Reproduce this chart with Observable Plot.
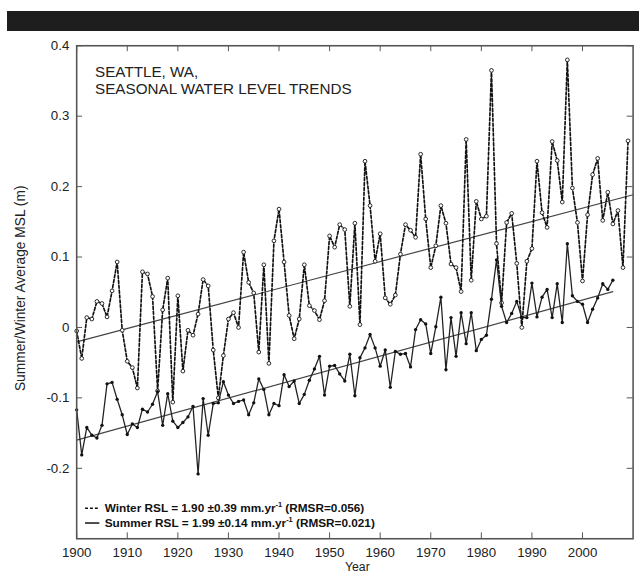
<!DOCTYPE html>
<html>
<head>
<meta charset="utf-8">
<script src="https://cdn.jsdelivr.net/npm/d3@7"></script>
<script src="https://cdn.jsdelivr.net/npm/@observablehq/plot@0.6"></script>
<style>
  html, body { margin: 0; padding: 0; background: #fff; overflow: hidden; }
  #wrap { position: relative; width: 639px; height: 587px; overflow: hidden; background: #fff; }
  #bar { position: absolute; left: 7px; top: 11px; width: 632px; height: 20px; background: #1e1e1e; }
  #chart { position: absolute; left: 0; top: 31px; }
</style>
</head>
<body>
<div id="wrap"><div id="bar"></div><div id="chart"></div></div>
<script>
// Seattle, WA — seasonal mean sea level (m), one value per year
const winterStart = 1900;
const winterMSL = [
  -0.005, -0.044, 0.014, 0.012, 0.037, 0.034, 0.015, 0.052, 0.093, -0.004,   // 1900s
  -0.048, -0.057, -0.086, 0.079, 0.076, 0.044, -0.090, 0.025, 0.070, -0.106, // 1910s
  0.045, -0.062, -0.004, -0.011, 0.019, 0.068, 0.059, -0.032, -0.100, -0.040, // 1920s
  0.012, 0.021, 0.000, 0.107, 0.064, 0.049, -0.035, 0.089, -0.051, 0.123,     // 1930s
  0.168, 0.093, 0.017, -0.016, 0.012, 0.089, 0.031, 0.024, 0.011, 0.038,      // 1940s
  0.130, 0.114, 0.146, 0.139, 0.030, 0.148, 0.004, 0.236, 0.173, 0.094,       // 1950s
  0.133, 0.042, 0.033, 0.046, 0.104, 0.146, 0.138, 0.128, 0.246, 0.154,       // 1960s
  0.085, 0.116, 0.173, 0.148, 0.090, 0.085, 0.051, 0.267, 0.067, 0.179,       // 1970s
  0.154, 0.158, 0.365, 0.119, 0.035, 0.149, 0.162, 0.091, 0.000, 0.094,       // 1980s
  0.112, 0.236, 0.163, 0.142, 0.264, 0.237, 0.178, 0.380, 0.198, 0.149,       // 1990s
  0.066, 0.160, 0.217, 0.240, 0.152, 0.192, 0.147, 0.166, 0.085, 0.265        // 2000s
];
const summerStart = 1900;
const summerMSL = [
  -0.117, -0.181, -0.142, -0.153, -0.157, -0.139, -0.080, -0.078, -0.102, -0.124, // 1900s
  -0.152, -0.137, -0.142, -0.116, -0.120, -0.109, -0.091, -0.139, -0.094, -0.133, // 1910s
  -0.142, -0.135, -0.127, -0.112, -0.208, -0.101, -0.153, -0.108, -0.107, -0.077, // 1920s
  -0.096, -0.108, -0.105, -0.103, -0.124, -0.107, -0.073, -0.088, -0.124, -0.108, // 1930s
  -0.111, -0.067, -0.084, -0.076, -0.108, -0.095, -0.075, -0.059, -0.041, -0.096, // 1940s
  -0.055, -0.054, -0.066, -0.076, -0.038, -0.097, -0.043, -0.029, -0.010, -0.029, // 1950s
  -0.055, -0.032, -0.085, -0.034, -0.038, -0.037, -0.056, -0.003, 0.011, 0.005,   // 1960s
  -0.037, 0.001, 0.043, -0.060, 0.014, -0.041, 0.021, -0.023, 0.021, -0.033,      // 1970s
  -0.017, -0.011, 0.040, 0.096, 0.030, 0.007, 0.020, 0.037, 0.014, 0.014,         // 1980s
  0.063, 0.015, 0.043, 0.054, 0.014, 0.062, 0.007, 0.119, 0.045, 0.037,           // 1990s
  0.033, 0.007, 0.026, 0.042, 0.062, 0.054, 0.067                                 // 2000s
];

// Linear trends (rate in mm/yr, level at 1900 in m)
const winterFit = { rate: 1.90, err: 0.39, rmsr: "0.056", at1900: -0.0205, end: 2010 };
const summerFit = { rate: 1.99, err: 0.14, rmsr: "0.021", at1900: -0.160, end: 2006 };

const xTicks = [1900, 1910, 1920, 1930, 1940, 1950, 1960, 1970, 1980, 1990, 2000];
const yTicks = [-0.2, -0.1, 0, 0.1, 0.2, 0.3, 0.4];
const titleText = "SEATTLE, WA,\nSEASONAL WATER LEVEL TRENDS";
const yLabel = "Summer/Winter Average MSL (m)";
const xLabel = "Year";

const winter = winterMSL.map((v, i) => ({ year: winterStart + i, msl: v }));
const summer = summerMSL.map((v, i) => ({ year: summerStart + i, msl: v }));
const trend = f => [
  { year: 1900, msl: f.at1900 },
  { year: f.end, msl: f.at1900 + f.rate / 1000 * (f.end - 1900) }
];

const W = 650, H = 556;
const mL = 77.5, mR = 6.5, mT = 14.5, mB = 40;
const pw = W - mL - mR, ph = H - mT - mB;
const font = "'Liberation Sans', Arial, Helvetica, sans-serif";
const frameColor = "#555";

const plot = Plot.plot({
  width: W, height: H,
  marginLeft: mL, marginRight: mR, marginTop: mT, marginBottom: mB,
  x: { domain: [1900, 2010] },
  y: { domain: [-0.3, 0.4] },
  style: { fontFamily: font, fontSize: "13.5px", color: "#222", background: "white", overflow: "visible" },
  marks: [
    // inward ticks on all four sides
    Plot.ruleX(xTicks, { x: d => d, insetTop: ph - 6, stroke: frameColor, strokeWidth: 1 }),
    Plot.ruleX(xTicks, { x: d => d, insetBottom: ph - 6, stroke: frameColor, strokeWidth: 1 }),
    Plot.ruleY(yTicks, { y: d => d, insetRight: pw - 6, stroke: frameColor, strokeWidth: 1 }),
    Plot.ruleY(yTicks, { y: d => d, insetLeft: pw - 6, stroke: frameColor, strokeWidth: 1 }),
    Plot.axisX({ ticks: xTicks, tickSize: 0, tickPadding: 8.5, tickFormat: d => String(d), label: null, fill: "#222" }),
    Plot.axisY({ ticks: yTicks, tickSize: 0, tickPadding: 7.5, tickFormat: d => String(d), label: null, fill: "#222" }),
    // trend lines
    Plot.line(trend(winterFit), { x: "year", y: "msl", stroke: "#444", strokeWidth: 1.2 }),
    Plot.line(trend(summerFit), { x: "year", y: "msl", stroke: "#444", strokeWidth: 1.2 }),
    // winter: dashed with open circles
    Plot.line(winter, { x: "year", y: "msl", stroke: "#111", strokeWidth: 1.7, strokeDasharray: "3,2" }),
    Plot.dot(winter, { x: "year", y: "msl", r: 1.9, stroke: "#111", strokeWidth: 0.9, fill: "white" }),
    // summer: solid with filled dots
    Plot.line(summer, { x: "year", y: "msl", stroke: "#222", strokeWidth: 1.3 }),
    Plot.dot(summer, { x: "year", y: "msl", r: 1.7, fill: "#111", stroke: "none" }),
    Plot.frame({ stroke: frameColor, strokeWidth: 1.6 }),
    // titles
    Plot.text([titleText], { frameAnchor: "top-left", text: d => d, textAnchor: "start", lineAnchor: "top",
      dx: 18.7, dy: 20.3, lineHeight: 1.08, fontSize: 15.5, fill: "#222" }),
    Plot.text([yLabel], { frameAnchor: "left", text: d => d, textAnchor: "middle", rotate: -90, dx: -57.5, dy: -4, fontSize: 14, fill: "#222" }),
    Plot.text([xLabel], { frameAnchor: "bottom", text: d => d, dx: 2.5, dy: 33, fontSize: 12.5, fill: "#222" })
  ]
});

// legend: line sample, bold text with superscript unit
const svg = d3.select(plot);
const lg = svg.append("g")
  .attr("font-family", font).attr("font-weight", "bold").attr("font-size", 12)
  .attr("fill", "#111").attr("text-anchor", "start");
[
  { name: "Winter", fit: winterFit, dash: "3,2" },
  { name: "Summer", fit: summerFit, dash: null }
].forEach((row, i) => {
  const yb = 489.5 + i * 15;
  lg.append("line")
    .attr("x1", 86.5).attr("x2", 101).attr("y1", yb - 4).attr("y2", yb - 4)
    .attr("stroke", "#111").attr("stroke-width", 1.5)
    .attr("stroke-dasharray", row.dash);
  const t = lg.append("text").attr("x", 106.5).attr("y", yb);
  t.append("tspan").text(`${row.name} RSL = ${row.fit.rate.toFixed(2)} \u00b1${row.fit.err.toFixed(2)} mm.yr`);
  t.append("tspan").attr("font-size", 7.5).attr("dy", -5).text("-1");
  t.append("tspan").attr("dy", 5).text(` (RMSR=${row.fit.rmsr})`);
});

document.getElementById("chart").appendChild(plot);
</script>
</body>
</html>
